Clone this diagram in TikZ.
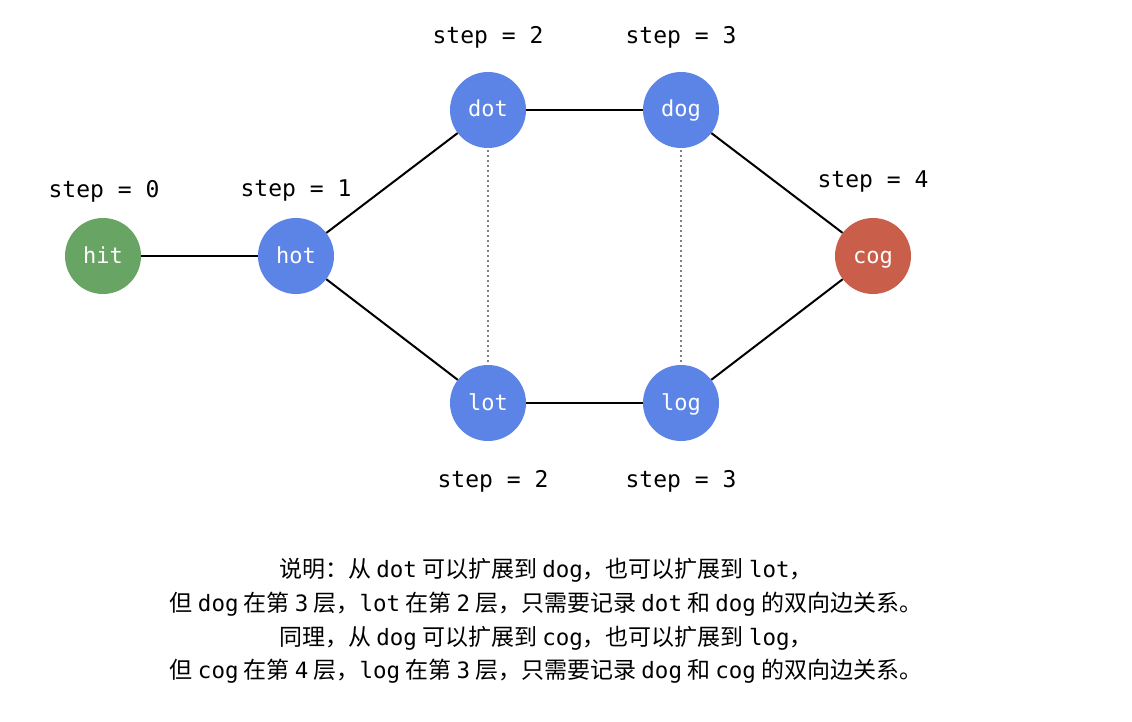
\documentclass[tikz,border=0pt]{standalone}
\usepackage{fontspec}
\newfontfamily\cjk{Noto Sans CJK SC}
\newfontfamily\mono{DejaVu Sans Mono}
\newcommand{\mw}[1]{{\mono\fontsize{22.5}{33.7}\selectfont #1}}
\definecolor{hitgreen}{HTML}{68A463}
\definecolor{nodeblue}{HTML}{5B84E6}
\definecolor{cogred}{HTML}{C95E4A}
\definecolor{dotgray}{HTML}{808080}
\begin{document}
\begin{tikzpicture}[x=1pt,y=-1pt,
  wnode/.style={circle,minimum size=76pt,inner sep=0pt,text=white,text height=15pt,text depth=1pt,font=\mono\fontsize{22}{26}\selectfont},
  steplbl/.style={font=\mono\fontsize{23}{27}\selectfont,text=black,inner sep=0pt},
  edge/.style={line width=2pt,black},
  vdot/.style={line width=1.6pt,dotgray,dash pattern=on 2pt off 3pt,shorten >=2pt,shorten <=2pt}]
\fill[white] (0,0) rectangle (1132,722);
\useasboundingbox (0,0) rectangle (1132,722);
\node[wnode,fill=hitgreen] (hit) at (103,256) {hit};
\node[wnode,fill=nodeblue] (hot) at (296,256) {hot};
\node[wnode,fill=nodeblue] (dot) at (488,110) {dot};
\node[wnode,fill=nodeblue] (dog) at (681,110) {dog};
\node[wnode,fill=nodeblue] (lot) at (488,403) {lot};
\node[wnode,fill=nodeblue] (log) at (681,403) {log};
\node[wnode,fill=cogred] (cog) at (873,256) {cog};
\draw[edge] (hit) -- (hot);
\draw[edge] (hot) -- (dot);
\draw[edge] (hot) -- (lot);
\draw[edge] (dot) -- (dog);
\draw[edge] (lot) -- (log);
\draw[edge] (dog) -- (cog);
\draw[edge] (log) -- (cog);
\draw[vdot] (dot) -- (lot);
\draw[vdot] (dog) -- (log);
\node[steplbl] (s0) at (104,191) {step = 0};
\node[steplbl] (s1) at (296,191) {step = 1};
\node[steplbl] (s2t) at (488,37) {step = 2};
\node[steplbl] (s3t) at (681,37) {step = 3};
\node[steplbl] (s4) at (873,182) {step = 4};
\node[steplbl] (s2b) at (493,481) {step = 2};
\node[steplbl] (s3b) at (681,481) {step = 3};
\node[align=center,inner sep=0pt,font=\cjk\fontsize{23}{33.7}\selectfont] (note) at (546,621) {说明：从 \mw{dot} 可以扩展到 \mw{dog}，也可以扩展到 \mw{lot}，\\
但 \mw{dog} 在第 \mw{3} 层，\mw{lot} 在第 \mw{2} 层，只需要记录 \mw{dot} 和 \mw{dog} 的双向边关系。\\
同理，从 \mw{dog} 可以扩展到 \mw{cog}，也可以扩展到 \mw{log}，\\
但 \mw{cog} 在第 \mw{4} 层，\mw{log} 在第 \mw{3} 层，只需要记录 \mw{dog} 和 \mw{cog} 的双向边关系。};
\end{tikzpicture}
\end{document}
